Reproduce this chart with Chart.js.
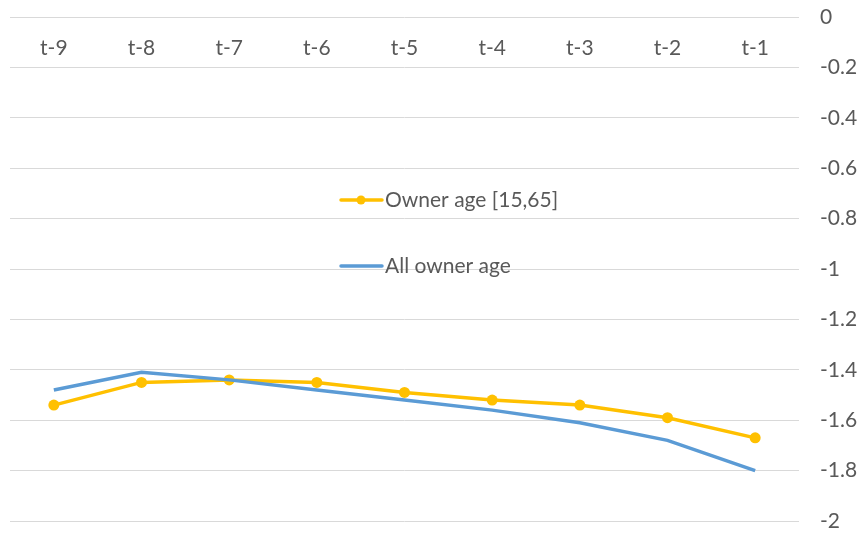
<!DOCTYPE html>
<html>
<head>
<meta charset="utf-8">
<script src="https://cdn.jsdelivr.net/npm/chart.js@4"></script>
<style>
  html, body { margin: 0; padding: 0; background: #fff; }
  #wrap { width: 861px; height: 533px; }
</style>
</head>
<body>
<div id="wrap"><canvas id="chart" width="861" height="533"></canvas></div>
<script>
const periods = ['t-9', 't-8', 't-7', 't-6', 't-5', 't-4', 't-3', 't-2', 't-1'];
const ownerAge15to65 = [-1.54, -1.45, -1.44, -1.45, -1.49, -1.52, -1.54, -1.59, -1.67];
const allOwnerAge = [-1.48, -1.41, -1.44, -1.48, -1.52, -1.56, -1.61, -1.68, -1.80];

const FONT = 'Lato, "Open Sans", sans-serif';
const FONT_SIZE = 21;
const TEXT_COLOR = '#595959';
const GRID_COLOR = '#d9d9d9';

// legend drawn inside the plot area, like the Excel original
const innerLegend = {
    id: 'innerLegend',
    afterDatasetsDraw(chart) {
        const { ctx, chartArea } = chart;
        const x0 = chartArea.left + 331;
        const rows = [chartArea.top + 183, chartArea.top + 249];
        chart.data.datasets.forEach((ds, i) => {
            const y = rows[i];
            ctx.save();
            ctx.strokeStyle = ds.borderColor;
            ctx.lineWidth = 3.5;
            ctx.lineCap = 'round';
            ctx.beginPath();
            ctx.moveTo(x0, y);
            ctx.lineTo(x0 + 41, y);
            ctx.stroke();
            if (ds.pointRadius > 0) {
                ctx.fillStyle = ds.borderColor;
                ctx.beginPath();
                ctx.arc(x0 + 20, y, 4.5, 0, Math.PI * 2);
                ctx.fill();
            }
            ctx.fillStyle = TEXT_COLOR;
            ctx.font = FONT_SIZE + 'px ' + FONT;
            ctx.textBaseline = 'middle';
            ctx.textAlign = 'left';
            ctx.fillText(ds.label, x0 + 44, y);
            ctx.restore();
        });
    }
};

new Chart(document.getElementById('chart').getContext('2d'), {
    type: 'line',
    data: {
        labels: periods,
        datasets: [
            {
                label: 'Owner age [15,65]',
                data: ownerAge15to65,
                borderColor: '#FFC000',
                backgroundColor: '#FFC000',
                borderWidth: 3.5,
                pointRadius: 5.5,
                pointHoverRadius: 5.5,
                pointBorderWidth: 0,
                fill: false,
                tension: 0,
                order: 2
            },
            {
                label: 'All owner age',
                data: allOwnerAge,
                borderColor: '#5B9BD5',
                backgroundColor: '#5B9BD5',
                borderWidth: 3.5,
                pointRadius: 0,
                fill: false,
                tension: 0,
                order: 1
            }
        ]
    },
    options: {
        responsive: false,
        animation: false,
        layout: { padding: { left: 10, top: 17, bottom: 12, right: 0 } },
        scales: {
            x: {
                position: 'top',
                offset: true,
                grid: { display: false, drawTicks: false },
                border: { display: false },
                ticks: {
                    mirror: true,
                    color: TEXT_COLOR,
                    font: { family: FONT, size: FONT_SIZE },
                    padding: 19,
                    maxRotation: 0,
                    autoSkip: false
                },
                afterFit: (scale) => { scale.height = 0; }
            },
            y: {
                position: 'right',
                min: -2,
                max: 0,
                grid: { color: GRID_COLOR, lineWidth: 1, drawTicks: false },
                border: { display: false },
                ticks: {
                    stepSize: 0.2,
                    color: TEXT_COLOR,
                    font: { family: FONT, size: FONT_SIZE },
                    padding: 21,
                    crossAlign: 'near',
                    callback: (value) => Number(value.toFixed(1)).toString()
                },
                afterFit: (scale) => {
                    scale.width = 62;
                    scale.paddingTop = 0;
                    scale.paddingBottom = 0;
                }
            }
        },
        plugins: {
            legend: { display: false },
            tooltip: { enabled: false }
        }
    },
    plugins: [innerLegend]
});
</script>
</body>
</html>
